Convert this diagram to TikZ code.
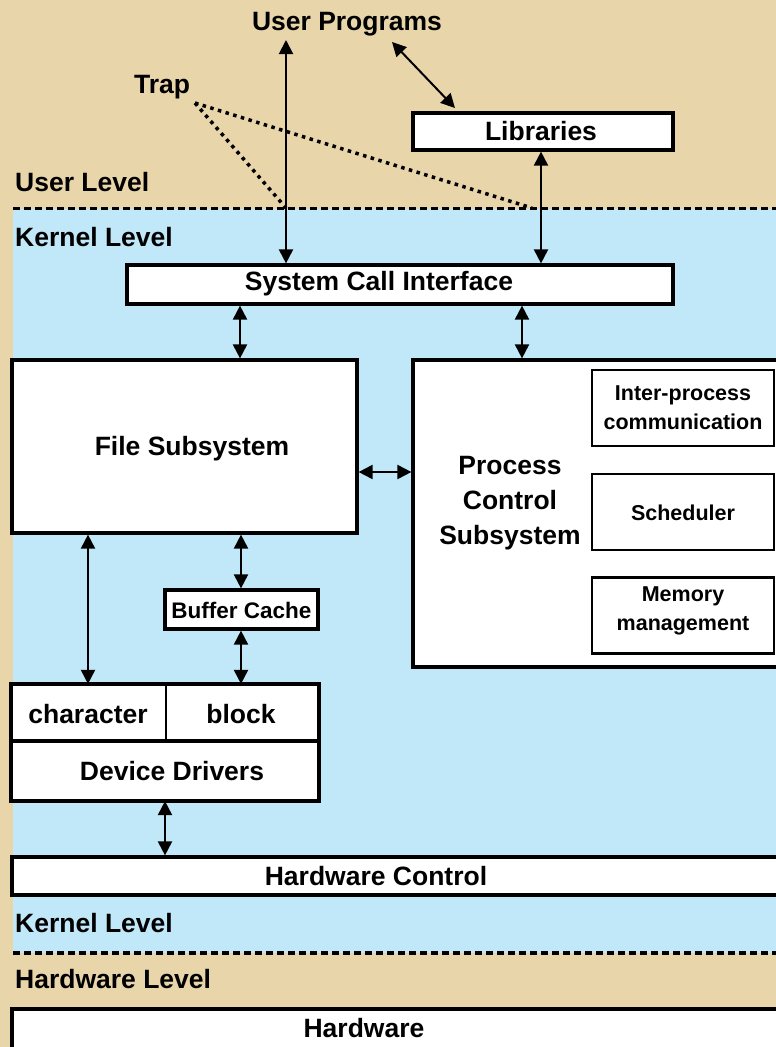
\documentclass[tikz,border=0pt]{standalone}
\usepackage{fontspec}
\setmainfont{Liberation Sans}
\usetikzlibrary{arrows.meta,calc}
\definecolor{tanbg}{RGB}{233,213,170}
\definecolor{kblue}{RGB}{192,232,248}
\begin{document}
\begin{tikzpicture}[x=1pt,y=-1pt,
  box/.style={draw=black,line width=3.2pt,fill=white,inner sep=0pt},
  sbox/.style={draw=black,line width=2.2pt,fill=white,inner sep=0pt},
  big/.style={font=\bfseries\fontsize{26.5}{35}\selectfont,inner sep=0pt,align=center},
  small/.style={font=\bfseries\fontsize{21.5}{29}\selectfont,inner sep=0pt,align=center},
  lvl/.style={big,anchor=west},
  biarr/.style={{Triangle[length=14pt,width=14pt]}-{Triangle[length=14pt,width=14pt]},line width=2pt},
  trapline/.style={line width=3.5pt,dash pattern=on 3.5pt off 4.5pt},
  lvlline/.style={line width=3.5pt,dash pattern=on 7pt off 4pt}
]
\useasboundingbox (0,0) rectangle (776,1047);
\clip (0,0) rectangle (776,1047);
\fill[tanbg] (0,0) rectangle (776,1047);
\fill[kblue] (13,208.5) rectangle (776,953);
\draw[lvlline] (13,208.5) -- (776,208.5);
\draw[lvlline] (13,953) -- (776,953);

% labels
\node[big] (up) at (347,24) {User Programs};
\node[big] (trap) at (162,87) {Trap};
\node[lvl] (ulvl) at (15,182) {User Level};
\node[lvl] (klvl1) at (15,237) {Kernel Level};
\node[lvl] (klvl2) at (15,923) {Kernel Level};
\node[lvl] (hlvl) at (15,979) {Hardware Level};

% boxes
\node[box,minimum width=260pt,minimum height=37pt] (lib) at (543,131.5) {};
\node[big] (libT) at (541,131) {Libraries};
\node[box,minimum width=546pt,minimum height=39pt] (sci) at (400,284.5) {};
\node[big] (sciT) at (379,284) {System Call Interface};
\node[box,minimum width=345pt,minimum height=173pt] (fs) at (184.5,446.5) {};
\node[big] (fsT) at (192,449) {File Subsystem};
\node[box,minimum width=387pt,minimum height=307pt] (pcs) at (606.5,513.5) {};
\node[big] (pcsT) at (510,503) {Process\\Control\\Subsystem};
\node[sbox,minimum width=182pt,minimum height=76pt] (ipc) at (683,408) {};
\node[small] (ipcT) at (683,408) {Inter-process\\communication};
\node[sbox,minimum width=182pt,minimum height=76pt] (sched) at (683,512) {};
\node[small] (schedT) at (683,513) {Scheduler};
\node[sbox,minimum width=182pt,minimum height=76pt] (mem) at (683,615.5) {};
\node[small] (memT) at (683,611) {Memory\\management};
\node[box,minimum width=153pt,minimum height=39pt] (bc) at (241.5,609.5) {};
\node[small,font=\bfseries\fontsize{22.5}{29}\selectfont] (bcT) at (241.5,610) {Buffer Cache};

% device drivers
\node[sbox,minimum width=154pt,minimum height=57pt] (ddc) at (89,713.5) {};
\node[sbox,minimum width=152pt,minimum height=57pt] (ddb) at (242,713.5) {};
\node[sbox,minimum width=306pt,minimum height=58pt] (ddd) at (165,771) {};
\draw[line width=3.2pt] (ddc.north west) rectangle (ddd.south east);
\draw[line width=3.2pt] (ddd.north west) -- (ddd.north east);
\node[big] (ddcT) at (88,714) {character};
\node[big] (ddbT) at (241,714) {block};
\node[big] (dddT) at (172,771) {Device Drivers};

\node[box,minimum width=788pt,minimum height=38pt] (hwc) at (406,876) {};
\node[big] (hwcT) at (376,876) {Hardware Control};
\node[box,minimum width=788pt,minimum height=61pt] (hw) at (406,1039.5) {};
\node[big] (hwT) at (364,1028) {Hardware};

% arrows
\coordinate (c1) at (286,40);
\draw[biarr] (c1) -- (c1 |- sci.north);
\coordinate (c2) at (541,0);
\draw[biarr] (c2 |- lib.south) -- (c2 |- sci.north);
\coordinate (c3) at (392,42);
\coordinate (c4) at (455,108);
\draw[biarr] (c3) -- (c4);
\coordinate (c5) at (240,0);
\draw[biarr] (c5 |- sci.south) -- (c5 |- fs.north);
\coordinate (c6) at (522,0);
\draw[biarr] (c6 |- sci.south) -- (c6 |- pcs.north);
\coordinate (c7) at (0,472);
\draw[biarr] (c7 -| fs.east) -- (c7 -| pcs.west);
\coordinate (c8) at (88,0);
\draw[biarr] (c8 |- fs.south) -- (c8 |- ddc.north);
\coordinate (c9) at (241,0);
\draw[biarr] (c9 |- fs.south) -- (c9 |- bc.north);
\draw[biarr] (c9 |- bc.south) -- (c9 |- ddb.north);
\coordinate (c10) at (165,0);
\draw[biarr] (c10 |- ddd.south) -- (c10 |- hwc.north);

% trap lines
\coordinate (t0) at (195,103);
\coordinate (t1) at (286,208);
\coordinate (t2) at (532,208);
\draw[trapline] (t0) -- (t1);
\draw[trapline] (t0) -- (t2);
\end{tikzpicture}
\end{document}
